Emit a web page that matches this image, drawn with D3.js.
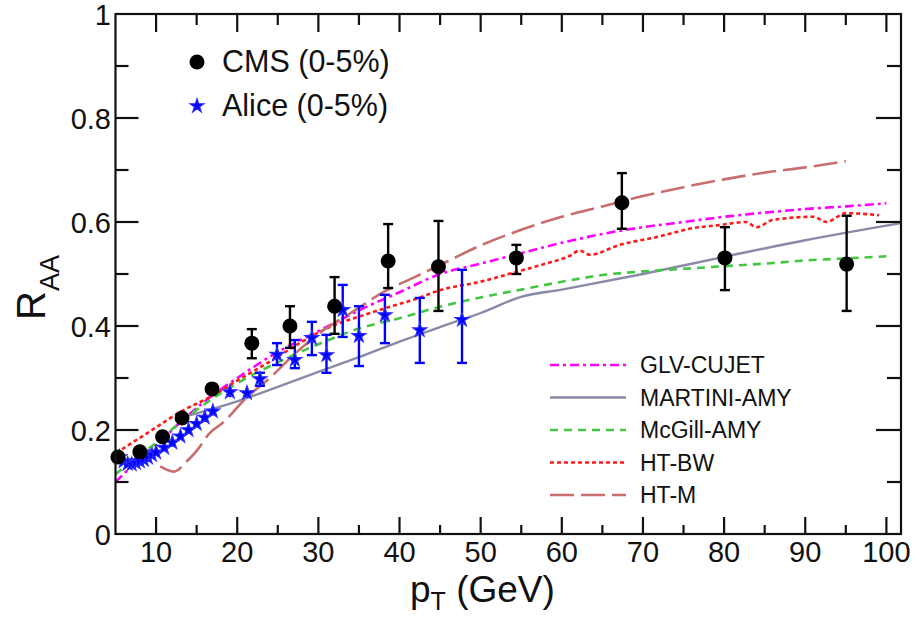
<!DOCTYPE html>
<html>
<head>
<meta charset="utf-8">
<script src="https://cdn.jsdelivr.net/npm/d3@7"></script>
<style>
  body { margin: 0; background: #fff; }
  svg text { font-family: "Liberation Sans", Arial, Helvetica, sans-serif; fill: #111; }
</style>
</head>
<body>
<div id="chart"></div>
<script>
// CMS (0-5%) : [pT, RAA, errLow, errHigh]
const cmsData = [
  [5.3, 0.148, 0.141, 0.155],
  [8.0, 0.158, 0.151, 0.165],
  [10.8, 0.187, 0.180, 0.194],
  [13.2, 0.223, 0.215, 0.231],
  [16.9, 0.279, 0.270, 0.288],
  [21.8, 0.367, 0.338, 0.394],
  [26.5, 0.400, 0.358, 0.438],
  [32.0, 0.438, 0.385, 0.494],
  [38.6, 0.525, 0.473, 0.596],
  [44.8, 0.514, 0.429, 0.602],
  [54.4, 0.531, 0.500, 0.556],
  [67.4, 0.637, 0.587, 0.694],
  [80.1, 0.531, 0.469, 0.590],
  [95.1, 0.519, 0.429, 0.612]
];

// Alice (0-5%) : [pT, RAA, errLow, errHigh]
const aliceData = [
  [5.5, 0.148, 0.142, 0.154], [6.0, 0.140, 0.134, 0.146], [6.5, 0.135, 0.129, 0.141],
  [7.0, 0.134, 0.128, 0.140], [7.5, 0.137, 0.131, 0.143], [8.0, 0.140, 0.134, 0.146],
  [8.5, 0.143, 0.137, 0.149], [9.0, 0.147, 0.141, 0.153], [9.5, 0.152, 0.146, 0.158],
  [10.0, 0.157, 0.151, 0.163], [11.0, 0.166, 0.160, 0.172], [12.0, 0.176, 0.170, 0.182],
  [13.0, 0.188, 0.181, 0.195], [14.0, 0.200, 0.193, 0.207], [15.0, 0.212, 0.205, 0.219],
  [16.0, 0.224, 0.216, 0.232], [17.0, 0.236, 0.228, 0.244], [19.1, 0.273, 0.263, 0.283],
  [21.2, 0.271, 0.262, 0.282], [22.8, 0.298, 0.285, 0.310], [24.9, 0.345, 0.325, 0.367],
  [27.1, 0.335, 0.319, 0.373], [29.2, 0.377, 0.344, 0.408], [31.0, 0.344, 0.310, 0.383],
  [33.0, 0.431, 0.379, 0.479], [35.0, 0.381, 0.323, 0.438], [38.2, 0.421, 0.367, 0.460],
  [42.5, 0.392, 0.329, 0.454], [47.7, 0.412, 0.329, 0.508]
];

// model curves [pT, RAA]
const glvCujet = [
  [5, 0.10], [7, 0.13], [10, 0.17], [13, 0.215], [16, 0.255], [20, 0.30], [25, 0.35],
  [30, 0.39], [35, 0.43], [40, 0.465], [45, 0.50], [50, 0.52], [55, 0.54], [60, 0.56],
  [65, 0.577], [70, 0.59], [75, 0.60], [80, 0.61], [85, 0.618], [90, 0.625], [95, 0.63], [100, 0.636]
];
const martiniAmy = [
  [12.5, 0.222], [15, 0.232], [20, 0.255], [25, 0.283], [30, 0.312], [35, 0.34],
  [40, 0.37], [45, 0.398], [50, 0.425], [55, 0.456], [60, 0.47], [70, 0.50],
  [80, 0.533], [90, 0.565], [101.8, 0.598]
];
const mcgillAmy = [
  [5, 0.115], [7, 0.14], [10, 0.175], [13, 0.215], [16, 0.25], [20, 0.29], [25, 0.33],
  [30, 0.365], [35, 0.395], [40, 0.415], [45, 0.437], [50, 0.455], [55, 0.47], [60, 0.485],
  [65, 0.498], [70, 0.505], [75, 0.51], [80, 0.515], [85, 0.52], [90, 0.526], [95, 0.53], [100, 0.534]
];
const htBw = [
  [5.8, 0.163], [8, 0.185], [10, 0.205], [13, 0.235], [16.6, 0.263], [20, 0.295], [24.4, 0.335],
  [28, 0.37], [31.4, 0.398], [35, 0.418], [38.4, 0.435], [42, 0.452], [45, 0.469], [49.9, 0.485],
  [54.4, 0.504], [58, 0.52], [61, 0.535], [62.2, 0.545], [63.5, 0.537], [67.1, 0.556], [71.7, 0.571],
  [76.1, 0.588], [79.4, 0.594], [82.7, 0.60], [84, 0.59], [86, 0.604], [91, 0.61], [92.6, 0.60],
  [95, 0.617], [99.1, 0.613]
];
const htM = [
  [10.5, 0.13], [12.2, 0.12], [13.8, 0.14], [15, 0.16], [16.6, 0.194], [18.3, 0.215], [21, 0.26],
  [24, 0.30], [27, 0.345], [30, 0.385], [34, 0.425], [38, 0.465], [42, 0.495], [46, 0.525],
  [50, 0.555], [55, 0.585], [60, 0.61], [65, 0.63], [70, 0.65], [75, 0.667], [80, 0.682],
  [85, 0.695], [90, 0.705], [95, 0.717]
];

const models = [
  { name: 'GLV-CUJET', data: glvCujet, color: '#ff00ff', dash: '9,4,3,4', width: 2.6 },
  { name: 'MARTINI-AMY', data: martiniAmy, color: '#8a8aa6', dash: null, width: 2.4 },
  { name: 'McGill-AMY', data: mcgillAmy, color: '#44c644', dash: '8,6', width: 2.6 },
  { name: 'HT-BW', data: htBw, color: '#ff1a1a', dash: '4,3', width: 2.6 },
  { name: 'HT-M', data: htM, color: '#c86e6e', dash: '24,7', width: 2.6 }
];

const xMajor = d3.range(10, 101, 10);
const xMinor = d3.range(15, 100, 10);
const yMajor = [0, 0.2, 0.4, 0.6, 0.8, 1];
const yMinor = [0.1, 0.3, 0.5, 0.7, 0.9];

const width = 922;
const height = 620;
const plot = { left: 115.5, right: 901, top: 14, bottom: 534 };

const svg = d3.select('#chart')
  .append('svg')
  .attr('width', width)
  .attr('height', height);

const x = d3.scaleLinear().domain([5, 101.8]).range([plot.left, plot.right]);
const y = d3.scaleLinear().domain([0, 1]).range([plot.bottom, plot.top]);

svg.append('clipPath').attr('id', 'clip')
  .append('rect')
  .attr('x', plot.left).attr('y', plot.top)
  .attr('width', plot.right - plot.left).attr('height', plot.bottom - plot.top);

// model curves
const line = d3.line().x(d => x(d[0])).y(d => y(d[1])).curve(d3.curveMonotoneX);
const curves = svg.append('g').attr('clip-path', 'url(#clip)');
models.forEach(m => {
  curves.append('path')
    .datum(m.data)
    .attr('d', line)
    .attr('fill', 'none')
    .attr('stroke', m.color)
    .attr('stroke-width', m.width)
    .attr('stroke-dasharray', m.dash);
});

// error bars helper
function drawErrors(g, data, color, cap) {
  g.selectAll('line.bar')
    .data(data)
    .join('line')
    .attr('class', 'bar')
    .attr('x1', d => x(d[0])).attr('x2', d => x(d[0]))
    .attr('y1', d => y(d[2])).attr('y2', d => y(d[3]))
    .attr('stroke', color).attr('stroke-width', 2.4);
  ['lo', 'hi'].forEach((k, i) => {
    g.selectAll('line.cap' + k)
      .data(data.filter(d => y(d[2]) - y(d[3]) > 12))
      .join('line')
      .attr('class', 'cap' + k)
      .attr('x1', d => x(d[0]) - cap).attr('x2', d => x(d[0]) + cap)
      .attr('y1', d => y(d[2 + i])).attr('y2', d => y(d[2 + i]))
      .attr('stroke', color).attr('stroke-width', 2.4);
  });
}

const star = d3.symbol().type(d3.symbolStar).size(60);

// Alice
const alice = svg.append('g');
drawErrors(alice, aliceData, '#0000ff', 5);
alice.selectAll('path.star')
  .data(aliceData)
  .join('path')
  .attr('class', 'star')
  .attr('d', star)
  .attr('transform', d => `translate(${x(d[0])},${y(d[1])})`)
  .attr('fill', '#0000ff')
  .attr('stroke', '#2a2aff')
  .attr('stroke-width', 1.2);

// CMS
const cms = svg.append('g');
drawErrors(cms, cmsData, '#000', 5);
cms.selectAll('circle')
  .data(cmsData)
  .join('circle')
  .attr('cx', d => x(d[0]))
  .attr('cy', d => y(d[1]))
  .attr('r', 7.5)
  .attr('fill', '#000');

// frame + inward ticks on all sides
const axes = svg.append('g').attr('stroke', '#111').attr('stroke-width', 2.2);
axes.append('rect')
  .attr('x', plot.left).attr('y', plot.top)
  .attr('width', plot.right - plot.left).attr('height', plot.bottom - plot.top)
  .attr('fill', 'none');

function vTicks(vals, yy, len) {
  axes.selectAll(null).data(vals).join('line')
    .attr('x1', d => x(d)).attr('x2', d => x(d))
    .attr('y1', yy).attr('y2', yy + len);
}
function hTicks(vals, xx, len) {
  axes.selectAll(null).data(vals).join('line')
    .attr('y1', d => y(d)).attr('y2', d => y(d))
    .attr('x1', xx).attr('x2', xx + len);
}
vTicks(xMajor, plot.bottom, -17);
vTicks(xMinor, plot.bottom, -9);
vTicks(xMajor, plot.top, 18);
vTicks(xMinor, plot.top, 11);
hTicks(yMajor.slice(1, -1), plot.left, 23);
hTicks(yMinor, plot.left, 13);
hTicks(yMajor.slice(1, -1), plot.right, -25);
hTicks(yMinor, plot.right, -14);

// tick labels
svg.append('g').selectAll('text')
  .data(xMajor)
  .join('text')
  .attr('x', d => x(d))
  .attr('y', 562)
  .attr('text-anchor', 'middle')
  .attr('font-size', 29)
  .text(d => d);

svg.append('g').selectAll('text')
  .data(yMajor)
  .join('text')
  .attr('x', 111)
  .attr('y', d => y(d) + 11)
  .attr('text-anchor', 'end')
  .attr('font-size', 29)
  .text(d => d3.format('~g')(d));

// axis titles
const xt = svg.append('text')
  .attr('x', 410).attr('y', 602)
  .attr('font-size', 37);
xt.append('tspan').text('p');
xt.append('tspan').attr('font-size', 25).attr('dy', 8).text('T');
xt.append('tspan').attr('dy', -8).text(' (GeV)');

const yt = svg.append('text')
  .attr('transform', 'translate(45,320) rotate(-90)')
  .attr('font-size', 40);
yt.append('tspan').text('R');
yt.append('tspan').attr('font-size', 27).attr('dy', 14).text('AA');

// data legend (top left)
svg.append('circle').attr('cx', 197).attr('cy', 62).attr('r', 7.5).attr('fill', '#000');
svg.append('text').attr('x', 222).attr('y', 72).attr('font-size', 30.5).text('CMS (0-5%)');
svg.append('path').attr('d', star).attr('transform', 'translate(197,106)')
  .attr('fill', '#0000ff').attr('stroke', '#2a2aff').attr('stroke-width', 1.2);
svg.append('text').attr('x', 222).attr('y', 116).attr('font-size', 30.5).text('Alice (0-5%)');

// model legend (bottom right)
const leg = svg.append('g');
models.forEach((m, i) => {
  const yy = 365 + i * 32.5;
  leg.append('line')
    .attr('x1', 550).attr('x2', 626).attr('y1', yy).attr('y2', yy)
    .attr('stroke', m.color).attr('stroke-width', m.width)
    .attr('stroke-dasharray', m.dash);
  leg.append('text')
    .attr('x', 640).attr('y', yy + 8)
    .attr('font-size', 23)
    .text(m.name);
});
</script>
</body>
</html>
